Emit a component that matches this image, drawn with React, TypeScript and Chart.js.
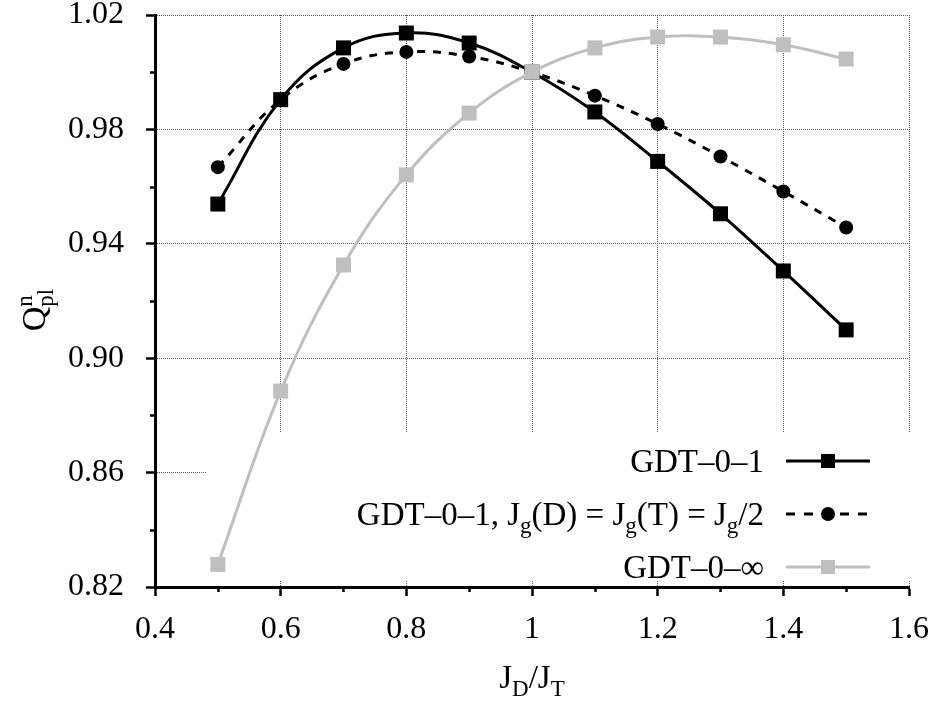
import React, { useEffect, useRef } from 'react';
import { Chart, registerables } from 'chart.js';

Chart.register(...registerables);

// ---- data ----
const xValues = [0.5, 0.6, 0.7, 0.8, 0.9, 1.0, 1.1, 1.2, 1.3, 1.4, 1.5];
const seriesGdt01 = [0.9539, 0.9904, 1.0085, 1.0137, 1.0102, 1.0, 0.9861, 0.9688, 0.9505, 0.9305, 0.9099];
const seriesGdt01Half = [0.9668, 0.9904, 1.0029, 1.0071, 1.0055, 1.0, 0.9918, 0.9819, 0.9705, 0.9583, 0.9457];
const seriesGdtInf = [0.8279, 0.8885, 0.9326, 0.9641, 0.9857, 1.0, 1.0085, 1.0123, 1.0123, 1.0096, 1.0046];

const xTicks = [0.4, 0.6, 0.8, 1.0, 1.2, 1.4, 1.6];
const xMinorTicks = [0.5, 0.7, 0.9, 1.1, 1.3, 1.5];
const yTicks = [0.82, 0.86, 0.9, 0.94, 0.98, 1.02];
const yMinorTicks = [0.84, 0.88, 0.92, 0.96, 1.0];

const seriesLabels = ['GDT–0–1', 'GDT–0–1, Jg(D) = Jg(T) = Jg/2', 'GDT–0–∞'];

type Seg = { t: string; k?: 'sub' | 'sup' };
const legendRows: Seg[][] = [
  [{ t: 'GDT–0–1' }],
  [
    { t: 'GDT–0–1, J' }, { t: 'g', k: 'sub' }, { t: '(D) = J' }, { t: 'g', k: 'sub' },
    { t: '(T) = J' }, { t: 'g', k: 'sub' }, { t: '/2' },
  ],
  [{ t: 'GDT–0–∞' }],
];
const xTitle: Seg[] = [{ t: 'J' }, { t: 'D', k: 'sub' }, { t: '/J' }, { t: 'T', k: 'sub' }];
const yTitleMain = 'Q';
const yTitleSup = 'n';
const yTitleSub = 'pl';

const FONT = '"Liberation Serif", "Times New Roman", serif';
const GREY = '#bfbfbf';

function fontStr(size: number) {
  return `${size}px ${FONT}`;
}

function richWidth(ctx: CanvasRenderingContext2D, segs: Seg[], main: number, sub: number) {
  let w = 0;
  for (const s of segs) {
    ctx.font = fontStr(s.k ? sub : main);
    w += ctx.measureText(s.t).width;
  }
  return w;
}

function drawRich(ctx: CanvasRenderingContext2D, segs: Seg[], x: number, y: number, main: number, sub: number) {
  let cx = x;
  for (const s of segs) {
    ctx.font = fontStr(s.k ? sub : main);
    const dy = s.k === 'sub' ? 8 : s.k === 'sup' ? -12 : 0;
    ctx.fillText(s.t, cx, y + dy);
    cx += ctx.measureText(s.t).width;
  }
}

const decorPlugin = {
  id: 'decor',
  beforeDatasetsDraw(chart: any) {
    const { ctx, chartArea } = chart;
    ctx.save();
    ctx.fillStyle = '#fff';
    const left = chartArea.left + 52;
    const top = 433;
    ctx.fillRect(left, top, chartArea.right + 4 - left, chartArea.bottom - 6 - top);
    ctx.restore();
  },
  afterDraw(chart: any) {
    const { ctx, chartArea, scales } = chart;
    const xs = scales.x;
    const ys = scales.y;
    ctx.save();
    // minor ticks
    ctx.strokeStyle = '#000';
    ctx.lineWidth = 2.5;
    for (const v of yMinorTicks) {
      const py = Math.round(ys.getPixelForValue(v)) + 0.5;
      ctx.beginPath();
      ctx.moveTo(chartArea.left - 5, py);
      ctx.lineTo(chartArea.left, py);
      ctx.stroke();
    }
    for (const v of xMinorTicks) {
      const px = Math.round(xs.getPixelForValue(v)) + 0.5;
      ctx.beginPath();
      ctx.moveTo(px, chartArea.bottom);
      ctx.lineTo(px, chartArea.bottom + 5);
      ctx.stroke();
    }

    // legend
    ctx.fillStyle = '#000';
    ctx.textBaseline = 'alphabetic';
    ctx.textAlign = 'left';
    const rowCenters = [461, 514, 567];
    const textRight = 764;
    const lineX0 = 786;
    const lineX1 = 870;
    const markX = 828;
    legendRows.forEach((segs, i) => {
      const w = richWidth(ctx, segs, 33, 23);
      ctx.fillStyle = '#000';
      drawRich(ctx, segs, textRight - w, rowCenters[i] + 11, 33, 23);
      const cy = rowCenters[i];
      ctx.lineWidth = 3;
      ctx.strokeStyle = i === 2 ? GREY : '#000';
      ctx.setLineDash(i === 1 ? [9, 9] : []);
      ctx.beginPath();
      ctx.moveTo(lineX0, cy);
      ctx.lineTo(lineX1, cy);
      ctx.stroke();
      ctx.setLineDash([]);
      ctx.fillStyle = i === 2 ? GREY : '#000';
      if (i === 1) {
        ctx.beginPath();
        ctx.arc(markX, cy, 7, 0, Math.PI * 2);
        ctx.fill();
      } else {
        ctx.fillRect(markX - 7, cy - 7, 14, 14);
      }
    });

    // x title
    ctx.fillStyle = '#000';
    const xw = richWidth(ctx, xTitle, 33, 23);
    const xc = (chartArea.left + chartArea.right) / 2;
    drawRich(ctx, xTitle, xc - xw / 2, 688, 33, 23);

    // y title (rotated)
    ctx.font = fontStr(34);
    const wQ = ctx.measureText(yTitleMain).width;
    ctx.font = fontStr(23);
    const wSup = ctx.measureText(yTitleSup).width;
    const wSub = ctx.measureText(yTitleSub).width;
    const total = wQ + Math.max(wSup, wSub);
    ctx.translate(45, 310);
    ctx.rotate(-Math.PI / 2);
    ctx.font = fontStr(34);
    ctx.fillText(yTitleMain, -total / 2, 0);
    ctx.font = fontStr(23);
    ctx.fillText(yTitleSup, -total / 2 + wQ, -13);
    ctx.fillText(yTitleSub, -total / 2 + wQ, 8);
    ctx.restore();
  },
};

export default function App() {
  const ref = useRef<HTMLCanvasElement>(null);
  useEffect(() => {
    const canvas = ref.current;
    if (!canvas) return;
    const pts = (ys: number[]) => xValues.map((x, i) => ({ x, y: ys[i] }));
    const zeroPad = (s: any) => {
      s.paddingLeft = 0;
      s.paddingRight = 0;
      s.paddingTop = 0;
      s.paddingBottom = 0;
    };
    const gridOpts = {
      color: '#555',
      lineWidth: 1,
      drawTicks: true,
      tickLength: 9,
      tickColor: '#000',
      tickWidth: 2.5,
    };
    const borderOpts = { display: true, color: '#000', width: 3, dash: [1, 1] };
    const chart = new Chart(canvas, {
      type: 'line',
      data: {
        datasets: [
          {
            label: seriesLabels[0],
            data: pts(seriesGdt01),
            borderColor: '#000',
            backgroundColor: '#000',
            borderWidth: 3,
            pointStyle: 'rect',
            pointRadius: 10.6,
            pointBorderWidth: 0,
            pointBackgroundColor: '#000',
            tension: 0.4,
            fill: false,
            order: 1,
          },
          {
            label: seriesLabels[1],
            data: pts(seriesGdt01Half),
            borderColor: '#000',
            backgroundColor: '#000',
            borderWidth: 3,
            borderDash: [8, 8],
            pointStyle: 'circle',
            pointRadius: 7,
            pointBorderWidth: 0,
            pointBackgroundColor: '#000',
            tension: 0.4,
            fill: false,
            order: 2,
          },
          {
            label: seriesLabels[2],
            data: pts(seriesGdtInf),
            borderColor: GREY,
            backgroundColor: GREY,
            borderWidth: 3,
            pointStyle: 'rect',
            pointRadius: 10.6,
            pointBorderWidth: 0,
            pointBackgroundColor: GREY,
            tension: 0.4,
            fill: false,
            order: 0,
          },
        ],
      },
      options: {
        responsive: false,
        animation: false,
        events: [],
        layout: { padding: { top: 15, right: 32, left: 0, bottom: 0 }, autoPadding: false },
        plugins: { legend: { display: false }, tooltip: { enabled: false } },
        scales: {
          x: {
            type: 'linear',
            min: 0.4,
            max: 1.6,
            afterBuildTicks: (s: any) => {
              s.ticks = xTicks.map((v) => ({ value: v }));
            },
            afterFit: (s: any) => {
              s.height = 117;
              zeroPad(s);
            },
            ticks: {
              callback: (v: any) => String(Math.round(Number(v) * 10) / 10),
              font: { family: FONT, size: 32 },
              color: '#000',
              padding: 14,
              maxRotation: 0,
              autoSkip: false,
            },
            grid: gridOpts,
            border: borderOpts,
          },
          y: {
            type: 'linear',
            min: 0.82,
            max: 1.02,
            afterBuildTicks: (s: any) => {
              s.ticks = yTicks.map((v) => ({ value: v }));
            },
            afterFit: (s: any) => {
              s.width = 155;
              zeroPad(s);
            },
            ticks: {
              callback: (v: any) => Number(v).toFixed(2),
              font: { family: FONT, size: 32 },
              color: '#000',
              padding: 22,
              autoSkip: false,
            },
            grid: gridOpts,
            border: borderOpts,
          },
        },
      },
      plugins: [decorPlugin],
    } as any);
    return () => chart.destroy();
  }, []);
  return (
    <div style={{ position: 'absolute', left: 0, top: 0, width: 941, height: 704, background: '#fff' }}>
      <canvas ref={ref} width={941} height={704} style={{ display: 'block', width: 941, height: 704 }} />
    </div>
  );
}
